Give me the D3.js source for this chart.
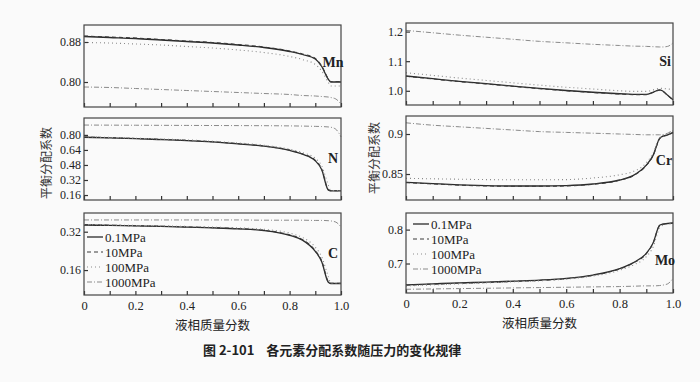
<!DOCTYPE html>
<html><head><meta charset="utf-8">
<script src="https://cdn.jsdelivr.net/npm/d3@7"></script>
<style>
html,body{margin:0;padding:0;background:#fafafa;}
svg{display:block;}
</style></head>
<body>
<svg id="chart" width="700" height="382"></svg>
<script>
// ---------------- DATA ----------------
const xs = [0, 0.1, 0.2, 0.3, 0.4, 0.5, 0.6, 0.7, 0.8, 0.85, 0.9, 0.925, 0.95, 0.96, 0.98, 1.0];
const seriesNames = ["0.1MPa", "10MPa", "100MPa", "1000MPa"];

const mn_01   = [0.891,0.889,0.887,0.884,0.881,0.878,0.874,0.869,0.861,0.855,0.846,0.831,0.806,0.800,0.800,0.800];
const mn_10   = [0.892,0.890,0.888,0.885,0.882,0.879,0.875,0.870,0.862,0.856,0.847,0.832,0.807,0.801,0.801,0.801];
const mn_100  = [0.879,0.878,0.876,0.874,0.871,0.868,0.864,0.859,0.851,0.845,0.835,0.822,0.800,0.792,0.792,0.792];
const mn_1000 = [0.790,0.789,0.787,0.785,0.783,0.781,0.779,0.777,0.775,0.773,0.772,0.771,0.770,0.769,0.766,0.756];

const n_01   = [0.775,0.768,0.760,0.750,0.740,0.725,0.705,0.680,0.635,0.595,0.525,0.430,0.215,0.205,0.205,0.205];
const n_10   = [0.777,0.770,0.762,0.752,0.742,0.727,0.707,0.682,0.638,0.598,0.530,0.435,0.220,0.206,0.206,0.206];
const n_100  = [0.780,0.773,0.765,0.756,0.747,0.733,0.714,0.690,0.648,0.612,0.550,0.470,0.270,0.210,0.208,0.208];
const n_1000 = [0.905,0.904,0.903,0.902,0.901,0.900,0.899,0.898,0.896,0.894,0.891,0.889,0.885,0.882,0.860,0.780];

const c_01   = [0.348,0.346,0.344,0.342,0.339,0.336,0.332,0.325,0.305,0.285,0.238,0.195,0.110,0.104,0.104,0.104];
const c_10   = [0.349,0.347,0.345,0.343,0.340,0.337,0.333,0.326,0.307,0.287,0.241,0.198,0.113,0.105,0.105,0.105];
const c_100  = [0.350,0.348,0.346,0.344,0.342,0.339,0.336,0.330,0.314,0.296,0.255,0.215,0.135,0.106,0.105,0.105];
const c_1000 = [0.369,0.369,0.369,0.369,0.369,0.369,0.369,0.368,0.368,0.368,0.367,0.367,0.366,0.365,0.360,0.340];

const si_01   = [1.050,1.041,1.032,1.024,1.016,1.008,1.001,0.995,0.990,0.988,0.988,0.995,1.003,1.000,0.985,0.970];
const si_10   = [1.049,1.040,1.031,1.023,1.015,1.007,1.000,0.994,0.989,0.987,0.987,0.994,1.002,0.999,0.984,0.969];
const si_100  = [1.061,1.052,1.043,1.035,1.027,1.019,1.012,1.006,1.000,0.998,0.998,1.003,1.008,1.008,1.006,1.005];
const si_1000 = [1.204,1.196,1.188,1.181,1.174,1.167,1.162,1.157,1.153,1.151,1.150,1.149,1.148,1.148,1.150,1.162];

const cr_01   = [0.8396,0.8380,0.8365,0.8355,0.8350,0.8350,0.8355,0.8375,0.8425,0.8480,0.8610,0.8730,0.8946,0.8970,0.8990,0.9020];
const cr_10   = [0.8392,0.8376,0.8361,0.8351,0.8346,0.8346,0.8351,0.8371,0.8421,0.8476,0.8606,0.8726,0.8942,0.8966,0.8986,0.9016];
const cr_100  = [0.8446,0.8440,0.8435,0.8430,0.8428,0.8428,0.8430,0.8450,0.8490,0.8530,0.8640,0.8760,0.8950,0.8980,0.9010,0.9050];
const cr_1000 = [0.9140,0.9110,0.9090,0.9070,0.9050,0.9030,0.9020,0.9010,0.9000,0.8995,0.8990,0.8990,0.8990,0.8990,0.9010,0.9040];

const mo_01   = [0.637,0.640,0.643,0.645,0.648,0.651,0.656,0.666,0.685,0.702,0.730,0.760,0.813,0.816,0.818,0.820];
const mo_10   = [0.636,0.639,0.642,0.644,0.647,0.650,0.655,0.665,0.684,0.701,0.729,0.759,0.812,0.815,0.817,0.819];
const mo_100  = [0.634,0.637,0.640,0.643,0.646,0.649,0.654,0.663,0.680,0.695,0.720,0.748,0.805,0.812,0.816,0.819];
const mo_1000 = [0.624,0.625,0.626,0.627,0.628,0.629,0.630,0.631,0.632,0.633,0.634,0.634,0.635,0.636,0.640,0.656];

const xTickLabels = ["0", "0.2", "0.4", "0.6", "0.8", "1.0"];
const mnTicks = [0.80, 0.88];
const nTicks  = [0.16, 0.32, 0.48, 0.64, 0.80];
const cTicks  = [0.16, 0.32];
const siTicks = [1.0, 1.1, 1.2];
const crTicks = [0.85, 0.9];
const moTicks = [0.7, 0.8];

const xTitle = "液相质量分数";
const yTitle = "平衡分配系数";
const caption = "图 2-101    各元素分配系数随压力的变化规律";

// ---------------- LAYOUT ----------------
const panels = [
  {el:"Mn", x0:84, x1:341, y0:25, y1:107, dom:[0.75,0.914], ticks:mnTicks, fmt:".2f", data:[mn_01,mn_10,mn_100,mn_1000], lab:[333,67]},
  {el:"N",  x0:84, x1:341, y0:118, y1:200, dom:[0.107,0.98], ticks:nTicks, fmt:".2f", data:[n_01,n_10,n_100,n_1000], lab:[333,163]},
  {el:"C",  x0:84, x1:341, y0:213, y1:295, dom:[0.056,0.398], ticks:cTicks, fmt:".2f", data:[c_01,c_10,c_100,c_1000], lab:[333,258], legend:[87,237], xaxis:true},
  {el:"Si", x0:406, x1:673, y0:23, y1:105, dom:[0.952,1.229], ticks:siTicks, fmt:".1f", data:[si_01,si_10,si_100,si_1000], lab:[665,66]},
  {el:"Cr", x0:406, x1:673, y0:116, y1:200, dom:[0.8175,0.9225], ticks:crTicks, fmt:null, data:[cr_01,cr_10,cr_100,cr_1000], lab:[664,165]},
  {el:"Mo", x0:406, x1:673, y0:213, y1:293, dom:[0.613,0.849], ticks:moTicks, fmt:".1f", data:[mo_01,mo_10,mo_100,mo_1000], lab:[665,265], legend:[413,224], xaxis:true}
];

const styles = [
  {stroke:"#2a2a2a", w:1.3, dash:null},
  {stroke:"#3a3a3a", w:1.1, dash:"4,3"},
  {stroke:"#8a8a8a", w:1.1, dash:"1,3"},
  {stroke:"#8a8a8a", w:1.0, dash:"5,2,1,2"}
];

const svg = d3.select("#chart");
const serif = "'Liberation Serif','DejaVu Serif',serif";
const cjk = "'Noto Sans CJK SC','Noto Sans CJK JP',sans-serif";

panels.forEach(p => {
  const x = d3.scaleLinear().domain([0,1]).range([p.x0,p.x1]);
  const y = d3.scaleLinear().domain(p.dom).range([p.y1,p.y0]);
  const g = svg.append("g");

  // x ticks (inward, bottom)
  const xAx = d3.axisBottom(x).tickValues(d3.range(0,1.0001,0.1)).tickSize(-4).tickFormat("");
  g.append("g").attr("transform",`translate(0,${p.y1})`).call(xAx)
    .call(a=>{a.select(".domain").remove(); a.selectAll("line").attr("stroke","#333").attr("stroke-width",1.2);});

  // y ticks (inward, left)
  const yAx = d3.axisLeft(y).tickValues(p.ticks).tickSize(-4)
      .tickFormat(p.fmt ? d3.format(p.fmt) : (d=>String(d)));
  g.append("g").attr("transform",`translate(${p.x0},0)`).call(yAx)
    .call(a=>{a.select(".domain").remove();
      a.selectAll("line").attr("stroke","#333").attr("stroke-width",1.2);
      a.selectAll("text").attr("x",-3).attr("font-family",serif).attr("font-size",12).attr("fill","#222");});

  // lines
  const line = d3.line().x((d,i)=>x(xs[i])).y(d=>y(d)).curve(d3.curveMonotoneX);
  p.data.forEach((arr,k)=>{
    const s = styles[k];
    g.append("path").datum(arr).attr("d",line).attr("fill","none")
      .attr("stroke",s.stroke).attr("stroke-width",s.w)
      .attr("stroke-dasharray",s.dash);
  });

  // frame
  g.append("rect").attr("x",p.x0).attr("y",p.y0).attr("width",p.x1-p.x0).attr("height",p.y1-p.y0)
    .attr("fill","none").attr("stroke","#444").attr("stroke-width",1.2);

  // element label
  g.append("text").attr("x",p.lab[0]).attr("y",p.lab[1]).attr("text-anchor","middle")
    .attr("font-family",serif).attr("font-size",14).attr("font-weight","bold").attr("fill","#222").text(p.el);

  // legend
  if (p.legend) {
    const lg = g.append("g").attr("transform",`translate(${p.legend[0]},${p.legend[1]})`);
    seriesNames.forEach((nm,k)=>{
      const s = styles[k];
      lg.append("line").attr("x1",0).attr("x2",16).attr("y1",k*15).attr("y2",k*15)
        .attr("stroke",s.stroke).attr("stroke-width",s.w).attr("stroke-dasharray",s.dash);
      lg.append("text").attr("x",18).attr("y",k*15+4.5).attr("font-family",serif)
        .attr("font-size",13).attr("fill","#222").text(nm);
    });
  }

  // x axis labels
  if (p.xaxis) {
    const xl = d3.axisBottom(x).tickValues(d3.range(0,1.0001,0.2)).tickSize(0)
      .tickFormat((d,i)=>xTickLabels[i]);
    g.append("g").attr("transform",`translate(0,${p.y1+3})`).call(xl)
      .call(a=>{a.select(".domain").remove(); a.selectAll("text").attr("font-family",serif).attr("font-size",12.5).attr("fill","#222");});
    g.append("text").attr("x",(p.x0+p.x1)/2).attr("y",p.y1+35).attr("text-anchor","middle")
      .attr("font-family",cjk).attr("font-size",12.5).attr("fill","#222").text(xTitle);
  }
});

// y titles
[[45,163],[373,158]].forEach(([cx,cy])=>{
  svg.append("text").attr("transform",`translate(${cx},${cy}) rotate(-90)`).attr("text-anchor","middle")
    .attr("dominant-baseline","central").attr("font-family",cjk).attr("font-size",12).attr("fill","#333").text(yTitle);
});

// caption
svg.append("text").attr("x",203).attr("y",355).attr("font-family",cjk).attr("font-size",13)
  .attr("font-weight","bold").attr("fill","#222").attr("xml:space","preserve").style("white-space","pre").text(caption);
</script>
</body></html>
